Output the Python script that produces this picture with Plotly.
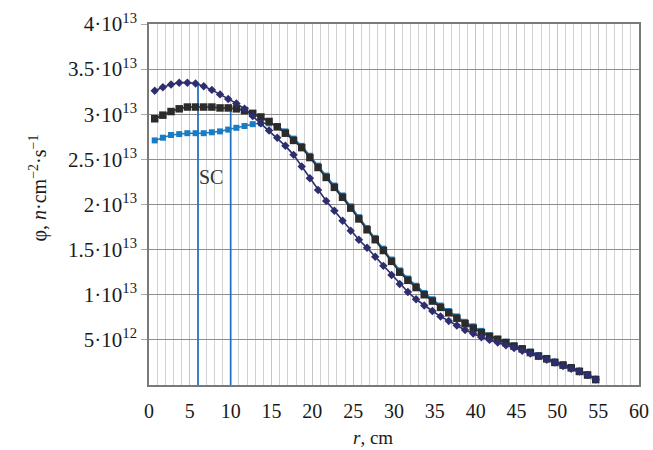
import plotly.graph_objects as go

# radius, cm
r = [0.7, 1.7, 2.7, 3.7, 4.7, 5.7, 6.7, 7.7, 8.7, 9.7,
     10.7, 11.7, 12.7, 13.7, 14.7, 15.7, 16.7, 17.7, 18.7, 19.7,
     20.7, 21.7, 22.7, 23.7, 24.7, 25.7, 26.7, 27.7, 28.7, 29.7,
     30.7, 31.7, 32.7, 33.7, 34.7, 35.7, 36.7, 37.7, 38.7, 39.7,
     40.7, 41.7, 42.7, 43.7, 44.7, 45.7, 46.7, 47.7, 48.7, 49.7,
     50.7, 51.7, 52.7, 53.7, 54.7]

# flux, units of 1e13 n/cm2/s
phi_black = [2.95, 2.99, 3.03, 3.06, 3.08, 3.08, 3.08, 3.08, 3.07, 3.07,
             3.06, 3.04, 3.01, 2.97, 2.92, 2.86, 2.79, 2.71, 2.63, 2.52,
             2.41, 2.30, 2.19, 2.08, 1.96, 1.84, 1.72, 1.61, 1.49, 1.37,
             1.25, 1.16, 1.08, 1.00, 0.93, 0.86, 0.80, 0.74, 0.68, 0.63,
             0.58, 0.54, 0.505, 0.47, 0.43, 0.40, 0.36, 0.32, 0.29, 0.25,
             0.22, 0.19, 0.15, 0.11, 0.06]

phi_navy = [3.26, 3.30, 3.33, 3.35, 3.35, 3.34, 3.31, 3.27, 3.22, 3.17,
            3.12, 3.06, 2.98, 2.90, 2.82, 2.74, 2.65, 2.55, 2.42, 2.29,
            2.16, 2.04, 1.93, 1.82, 1.71, 1.61, 1.52, 1.42, 1.32, 1.22,
            1.12, 1.03, 0.95, 0.88, 0.82, 0.76, 0.71, 0.66, 0.61, 0.57,
            0.53, 0.50, 0.47, 0.44, 0.41, 0.38, 0.35, 0.32, 0.28, 0.25,
            0.21, 0.18, 0.15, 0.11, 0.06]

phi_cyan = [2.71, 2.74, 2.77, 2.78, 2.79, 2.79, 2.79, 2.80, 2.81, 2.83,
            2.85, 2.87, 2.89, 2.90, 2.90, 2.87, 2.81, 2.73, 2.65, 2.54,
            2.43, 2.32, 2.21, 2.10, 1.98, 1.86, 1.74, 1.63, 1.51, 1.39,
            1.27, 1.18, 1.10, 1.02, 0.95, 0.88, 0.82, 0.76, 0.70, 0.65,
            0.60, 0.55, 0.515, 0.48, 0.44, 0.41, 0.37, 0.33, 0.30, 0.26,
            0.23, 0.20, 0.16, 0.12, 0.07]

# SC boundaries (cm) and their heights (1e13)
sc_x = [6, 10]
sc_top = [3.33, 3.05]

y_ticks = [0.5, 1, 1.5, 2, 2.5, 3, 3.5, 4]
y_labels = ["5·10<sup>12</sup>", "1·10<sup>13</sup>", "1.5·10<sup>13</sup>",
            "2·10<sup>13</sup>", "2.5·10<sup>13</sup>", "3·10<sup>13</sup>",
            "3.5·10<sup>13</sup>", "4·10<sup>13</sup>"]

FONT = "Liberation Serif"

fig = go.Figure()

for xv, top in zip(sc_x, sc_top):
    fig.add_trace(go.Scatter(x=[xv, xv], y=[0, top], mode="lines",
                             line=dict(color="#1c6fbd", width=1.7),
                             hoverinfo="skip", showlegend=False))

fig.add_trace(go.Scatter(x=r, y=phi_cyan, mode="lines+markers",
                         line=dict(color="#1a7cc4", width=1.6),
                         marker=dict(symbol="square", size=6, color="#1a7cc4"),
                         showlegend=False))
fig.add_trace(go.Scatter(x=r, y=phi_black, mode="lines+markers",
                         line=dict(color="#2b2b2b", width=1.6),
                         marker=dict(symbol="square", size=7.5, color="#2b2b2b"),
                         showlegend=False))
fig.add_trace(go.Scatter(x=r, y=phi_navy, mode="lines+markers",
                         line=dict(color="#2e2e6e", width=1.6),
                         marker=dict(symbol="diamond", size=6.5, color="#2e2e6e"),
                         showlegend=False))

fig.add_annotation(x=7.6, y=2.30, text="SC", showarrow=False,
                   font=dict(family=FONT, size=20, color="#333333"))

# axis titles placed as annotations to match reference offsets
fig.add_annotation(xref="paper", yref="paper", x=-0.226, y=0.545,
                   xanchor="center", yanchor="middle",
                   text="φ, <i>n</i>·cm<sup>−2</sup>·s<sup>−1</sup>",
                   textangle=-90, showarrow=False,
                   font=dict(family=FONT, size=20, color="#1a1a1a"))
fig.add_annotation(xref="paper", yref="paper", x=0.457, y=-0.146,
                   xanchor="center", yanchor="middle",
                   text="<i>r</i>, cm", showarrow=False,
                   font=dict(family=FONT, size=19, color="#1a1a1a"))

fig.update_layout(
    width=653, height=450,
    margin=dict(l=149, r=14, t=24, b=65),
    paper_bgcolor="white", plot_bgcolor="white",
    font=dict(family=FONT, size=20, color="#1a1a1a"),
)

fig.update_xaxes(
    range=[0, 60], tickvals=list(range(0, 61, 5)),
    tickfont=dict(family=FONT, size=20),
    showgrid=True, gridcolor="#c4c4c4", gridwidth=1,
    minor=dict(dtick=1, showgrid=True, gridcolor="#d2d2d2", gridwidth=1),
    showline=True, linecolor="#7a7a7a", linewidth=1.5, mirror=True,
    zeroline=False, ticks="", ticklabelstandoff=7, automargin=False,
)

fig.update_yaxes(
    range=[0, 4], tickvals=y_ticks, ticktext=y_labels,
    tickfont=dict(family=FONT, size=21),
    showgrid=True, gridcolor="#8e8e8e", gridwidth=1,
    showline=True, linecolor="#7a7a7a", linewidth=1.5, mirror=True,
    zeroline=False, ticks="outside", ticklen=6, tickcolor="#aaaaaa",
    automargin=False,
)

fig.write_html("out.html")
